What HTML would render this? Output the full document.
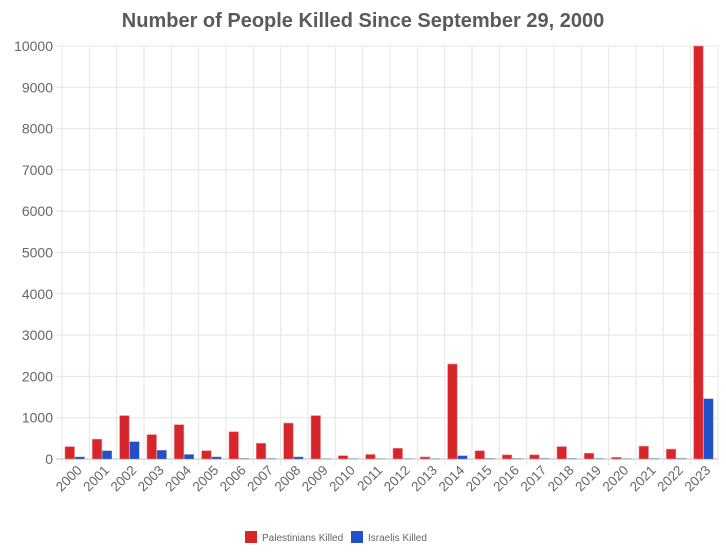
<!DOCTYPE html><html><head><style>body{margin:0;background:#fff}svg{display:block}</style></head><body>
<svg width="726" height="557" xmlns="http://www.w3.org/2000/svg" font-family="Liberation Sans, Arial, sans-serif">
<text x="363" y="27" text-anchor="middle" font-size="20" font-weight="bold" fill="#5a5a5a">Number of People Killed Since September 29, 2000</text>
<g id="g"></g>
<g font-size="14" fill="#666" text-anchor="end" id="yl"></g>
<g font-size="13.5" fill="#666" id="xl"></g>
<rect x="245" y="531" width="12" height="12" fill="#d7262b"/>
<text x="262" y="541" font-size="10" fill="#666">Palestinians Killed</text>
<rect x="351" y="531" width="12" height="12" fill="#2250c8"/>
<text x="368" y="541" font-size="10" fill="#666">Israelis Killed</text>
<script>
var ns="http://www.w3.org/2000/svg",g=document.getElementById('g'),yl=document.getElementById('yl'),xl=document.getElementById('xl');
function el(t,a,p,txt){var e=document.createElementNS(ns,t);for(var k in a)e.setAttribute(k,a[k]);if(txt)e.textContent=txt;p.appendChild(e);return e}
var x0=62,x1=718,y0=459,y1=46,cw=(x1-x0)/24;
function Y(v){return y0-(y0-y1)*v/10000}
for(var i=0;i<=10;i++){var y=Y(i*1000);el('line',{x1:x0-6,x2:x1,y1:y,y2:y,stroke:i?'#e5e5e5':'#bbb'},g);el('text',{x:x0-9,y:y+5},yl,String(i*1000))}
for(var i=0;i<=24;i++){var x=x0+i*cw;el('line',{x1:x,x2:x,y1:y1,y2:y0+6,stroke:'#e5e5e5'},g)}
var P=[300,480,1050,590,830,200,660,380,870,1050,80,110,260,50,2300,200,100,100,300,140,40,310,240,10000];
var I=[50,200,420,210,110,50,20,15,50,10,10,10,10,10,80,20,15,15,15,15,10,15,20,1460];
for(var i=0;i<24;i++){var x=x0+i*cw;
el('rect',{x:x+3,y:Y(P[i]),width:9.5,height:y0-Y(P[i]),fill:'#d7262b',stroke:'#e88',"stroke-width":0.6},g);
el('rect',{x:x+13,y:Y(I[i]),width:9.5,height:y0-Y(I[i]),fill:I[i]<30?'#aab8e6':'#2250c8',stroke:'#89a',"stroke-width":0.4},g);
var cx=x+cw/2+7,cy=471;el('text',{x:cx,y:cy,"text-anchor":"end",transform:'rotate(-45 '+cx+' '+cy+')'},xl,String(2000+i));}
</script>
</svg></body></html>
